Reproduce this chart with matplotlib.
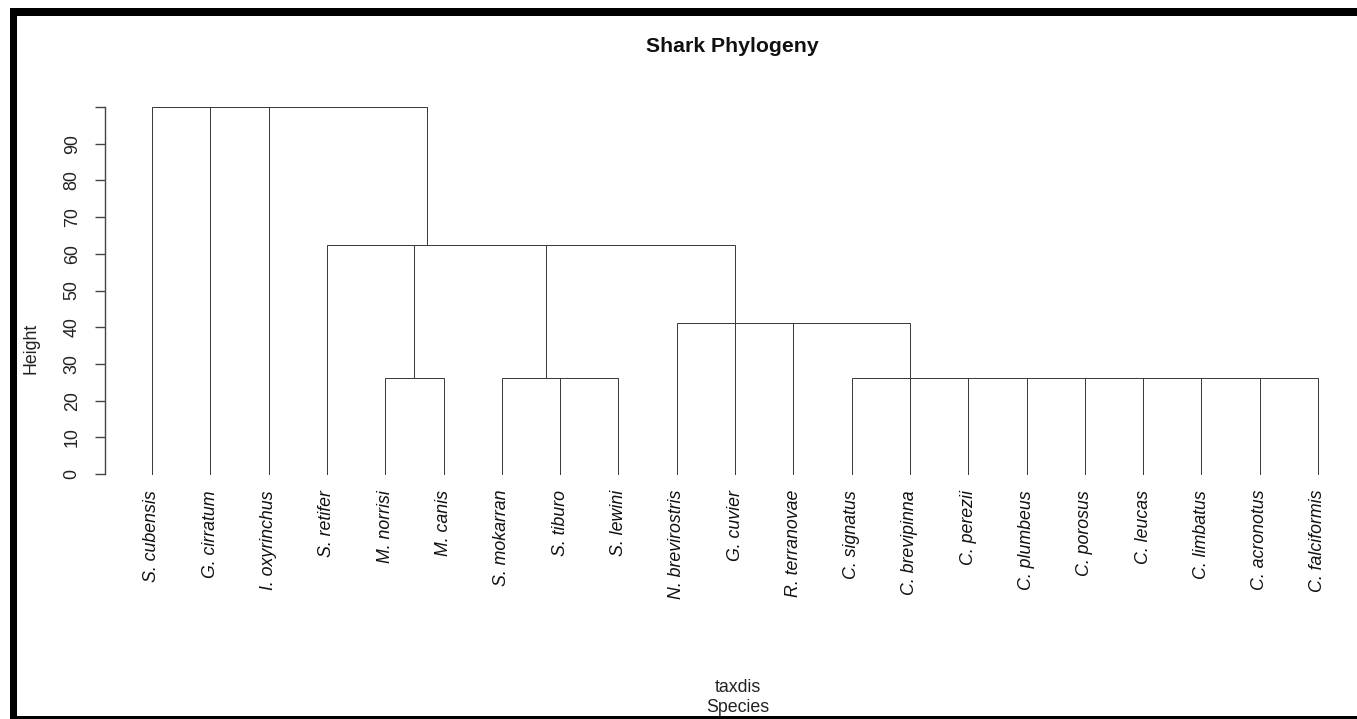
import matplotlib
matplotlib.use("Agg")
import matplotlib.pyplot as plt
from matplotlib.patches import Rectangle

plt.rcParams['font.family'] = ['Liberation Sans', 'DejaVu Sans']

# Merge heights of the taxonomic dendrogram
h_root = 100.0
h_order = 62.4
h_family = 41.1
h_genus = 26.2

# Genera / clades (leaves listed in plotting order)
mustelus = ["M. norrisi", "M. canis"]
sphyrna = ["S. mokarran", "S. tiburo", "S. lewini"]
carcharhinus = ["C. signatus", "C. brevipinna", "C. perezii", "C. plumbeus",
                "C. porosus", "C. leucas", "C. limbatus", "C. acronotus",
                "C. falciformis"]
carcharhinidae = ["N. brevirostris", "G. cuvier", "R. terranovae"]
carcharhiniformes = ["S. retifer"]
outgroups = ["S. cubensis", "G. cirratum", "I. oxyrinchus"]

y_ticks = [0, 10, 20, 30, 40, 50, 60, 70, 80, 90, 100]
y_ticklabels = ["0", "10", "20", "30", "40", "50", "60", "70", "80", "90", ""]

tree = (h_root, outgroups + [
    (h_order, carcharhiniformes + [
        (h_genus, mustelus),
        (h_genus, sphyrna),
        (h_family, carcharhinidae + [(h_genus, carcharhinus)]),
    ])
])

# ---- layout -----------------------------------------------------------
W, H = 1357, 719
fig = plt.figure(figsize=(W / 100, H / 100), dpi=100)
fig.patch.set_facecolor("white")

x_first, x_last = 152, 1318   # pixel x of first/last leaf
y_zero, y_top = 474, 107      # pixel y of height 0 and 100
axis_px = 105                 # pixel x of the height axis
n_leaves = 21
step = (x_last - x_first) / (n_leaves - 1)
x_min = 1 - (x_first - axis_px) / step

ax = fig.add_axes([axis_px / W, 1 - y_zero / H,
                   (x_last - axis_px) / W, (y_zero - y_top) / H])
ax.set_xlim(x_min, n_leaves)
ax.set_ylim(0, 100)
for s in ("top", "right", "bottom"):
    ax.spines[s].set_visible(False)
ax.spines["left"].set_color("#444444")
ax.spines["left"].set_linewidth(1.0)
ax.set_xticks([])
ax.set_yticks(y_ticks)
ax.set_yticklabels(y_ticklabels, rotation=90, va="center", fontsize=12.8,
                   color="#222222")
ax.tick_params(axis="y", length=7.5, width=1.0, color="#444444", pad=10)
ax.patch.set_alpha(0)

leaf_pos = {}
counter = [0]
seg_x, seg_y = [], []


def binarize(node):
    """Turn a multifurcating clade into a right-nested chain of binary merges."""
    if isinstance(node, str):
        return node
    h, kids = node
    kids = [binarize(k) for k in kids]
    cur = kids[-1]
    for k in reversed(kids[:-1]):
        cur = (h, k, cur)
    return cur


def add_seg(xs, ys):
    seg_x.extend(xs + [float("nan")])
    seg_y.extend(ys + [float("nan")])


def layout(node):
    """Collect the branch segments of a binary node; return (x, height)."""
    if isinstance(node, str):
        counter[0] += 1
        x = counter[0]
        leaf_pos[node] = x
        return x, 0.0
    h, left, right = node
    xl, hl = layout(left)
    xr, hr = layout(right)
    add_seg([xl, xl, xr, xr], [hl, h, h, hr])
    return (xl + xr) / 2, h


layout(binarize(tree))
# pixel-snapped 1px branches, so tied merges that overlap stay uniform
ax.plot(seg_x, seg_y, color="#3c3c3c", lw=0.72, clip_on=False, snap=True,
        solid_capstyle="projecting", solid_joinstyle="miter")

# leaf labels
label_y = -(490 - y_zero) / ((y_zero - y_top) / 100)
for name, x in leaf_pos.items():
    ax.text(x, label_y, name, rotation=90, ha="center", va="top",
            fontsize=12.8, style="italic", color="#111111", clip_on=False)

# titles
fig.text(732 / W, 1 - 46 / H, "Shark Phylogeny", ha="center", va="center",
         fontsize=15.3, fontweight="bold", color="#111111")
fig.text(31 / W, 1 - 348 / H, "Height", rotation=90, ha="center",
         va="center", fontsize=12.8, color="#222222")
fig.text(738 / W, 1 - 687 / H, "taxdis", ha="center", va="center",
         fontsize=12.8, color="#222222")
fig.text(738 / W, 1 - 707 / H, "Species", ha="center", va="center",
         fontsize=12.8, color="#222222")

# black frame around the panel (top, left, bottom)
frame = dict(transform=None, facecolor="black", edgecolor="none")
fig.patches.append(Rectangle((10, H - 16), W - 10, 8, **frame))
fig.patches.append(Rectangle((10, 0), 7, H - 8, **frame))
fig.patches.append(Rectangle((10, 0), W - 10, 3, **frame))

fig.savefig("out.png", dpi=100, facecolor="white")
